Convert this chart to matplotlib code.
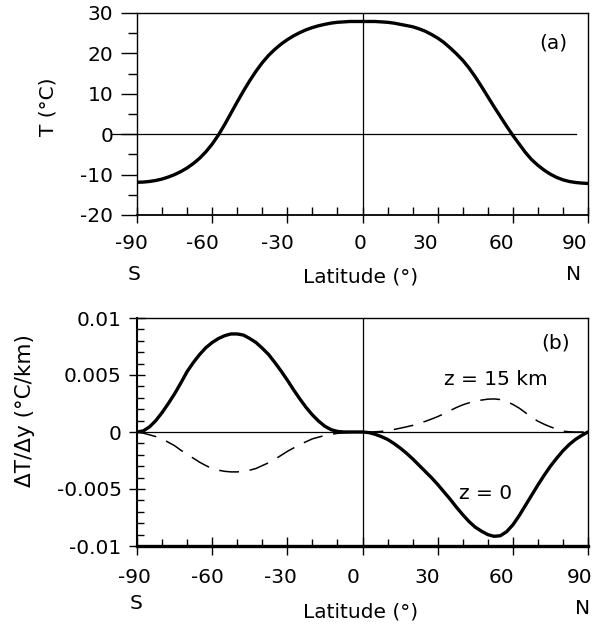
import numpy as np
import matplotlib
matplotlib.use("Agg")
import matplotlib.pyplot as plt
import matplotlib.transforms as mtransforms
from matplotlib.ticker import MultipleLocator, FixedLocator, FixedFormatter

plt.rcParams['font.family'] = ['DejaVu Sans']
plt.rcParams['axes.unicode_minus'] = False
FS = 14.5

# ---------------- data ----------------
lat = np.arange(-90, 90.1, 2.5)

# Panel (a): surface temperature (deg C)
temp_a = [-11.9, -11.85, -11.7, -11.45, -11.1, -10.6, -10.0, -9.25, -8.35, -7.25,
          -5.95, -4.35, -2.45, -0.2, 2.4, 5.2, 8.0, 10.7, 13.25, 15.6,
          17.7, 19.5, 21.0, 22.3, 23.4, 24.35, 25.15, 25.85, 26.4, 26.85,
          27.2, 27.5, 27.7, 27.8, 27.9, 27.9, 27.9, 27.9, 27.9, 27.8,
          27.7, 27.5, 27.2, 26.9, 26.6, 26.1, 25.5, 24.7, 23.8, 22.7,
          21.35, 19.9, 18.3, 16.4, 14.2, 11.8, 9.3, 6.8, 4.4, 2.0,
          -0.3, -2.4, -4.5, -6.3, -7.7, -8.9, -9.9, -10.7, -11.3, -11.7,
          -11.95, -12.1, -12.2]

# Panel (b): meridional gradient (units of 0.001 deg C / km)
grad_z0 = [0.0, 0.1, 0.45, 1.0, 1.7, 2.5, 3.35, 4.3, 5.3, 6.1,
           6.8, 7.4, 7.85, 8.2, 8.45, 8.6, 8.6, 8.5, 8.2, 7.85,
           7.35, 6.8, 6.1, 5.35, 4.55, 3.7, 2.9, 2.15, 1.5, 0.95,
           0.5, 0.2, 0.05, 0.0, 0.0, 0.0, 0.0, -0.05, -0.2, -0.4,
           -0.65, -1.0, -1.4, -1.85, -2.35, -2.9, -3.45, -4.0, -4.6, -5.25,
           -5.9, -6.6, -7.25, -7.85, -8.35, -8.7, -9.0, -9.15, -9.1, -8.75,
           -8.15, -7.35, -6.45, -5.55, -4.65, -3.8, -3.0, -2.3, -1.65, -1.1,
           -0.65, -0.3, 0.0]

grad_z15 = [0.0, -0.1, -0.25, -0.4, -0.6, -0.9, -1.2, -1.6, -1.95, -2.3,
            -2.65, -2.95, -3.2, -3.35, -3.45, -3.5, -3.5, -3.45, -3.35, -3.2,
            -2.95, -2.7, -2.4, -2.05, -1.7, -1.4, -1.1, -0.85, -0.6, -0.45,
            -0.3, -0.2, -0.12, -0.07, -0.03, 0.0, 0.0, 0.0, 0.02, 0.05,
            0.12, 0.22, 0.33, 0.45, 0.58, 0.75, 0.93, 1.13, 1.35, 1.6,
            1.88, 2.15, 2.38, 2.56, 2.7, 2.8, 2.88, 2.9, 2.85, 2.68,
            2.42, 2.1, 1.7, 1.28, 0.95, 0.68, 0.45, 0.25, 0.07, 0.02,
            0.0, 0.0, 0.0]

lat_ticks = [-90, -60, -30, 0, 30, 60, 90]
lat_ticklabels = ['-90', '-60', '-30', '0', '30', '60', '90']
ta_ticks = [-20, -10, 0, 10, 20, 30]
ta_ticklabels = ['-20', '-10', '0', '10', '20', '30']
gb_ticks = [-0.01, -0.005, 0, 0.005, 0.01]
gb_ticklabels = ['-0.01', '-0.005', '0', '0.005', '0.01']

grad_z0 = np.array(grad_z0) * 1e-3
grad_z15 = np.array(grad_z15) * 1e-3

# ---------------- figure ----------------
fig = plt.figure(figsize=(5.96, 6.24), dpi=100)
L, W = 137 / 596, 451 / 596
ax1 = fig.add_axes([L, 1 - 215 / 624, W, 202 / 624])
ax2 = fig.add_axes([L, 1 - 546 / 624, W, 228 / 624])


def shift_xticklabels(ax, shifts_px):
    for lab, dx in zip(ax.get_xticklabels(), shifts_px):
        off = mtransforms.ScaledTranslation(dx / 100.0, 0, fig.dpi_scale_trans)
        lab.set_transform(lab.get_transform() + off)


# ---- panel (a)
ax1.plot(lat, temp_a, color='black', lw=2.4, zorder=3)
ax1.axhline(0, xmin=-0.058, xmax=0.973, color='black', lw=0.9, clip_on=False, zorder=2)
ax1.axvline(0, color='black', lw=0.9, zorder=2)
ax1.set_xlim(-90, 90)
ax1.set_ylim(-20, 30)
ax1.xaxis.set_major_locator(FixedLocator(lat_ticks))
ax1.xaxis.set_major_formatter(FixedFormatter(lat_ticklabels))
ax1.xaxis.set_minor_locator(MultipleLocator(10))
ax1.yaxis.set_major_locator(FixedLocator(ta_ticks))
ax1.yaxis.set_major_formatter(FixedFormatter(ta_ticklabels))
ax1.yaxis.set_minor_locator(MultipleLocator(5))
ax1.tick_params(axis='x', which='major', direction='inout', length=11, width=1.0,
                pad=8.5, labelsize=FS)
ax1.tick_params(axis='x', which='minor', direction='in', length=5.5, width=1.0)
ax1.tick_params(axis='y', which='major', direction='out', length=11.5, width=1.0,
                pad=5.5, labelsize=FS)
ax1.tick_params(axis='y', which='minor', direction='out', length=6.5, width=1.0)
for s in ax1.spines.values():
    s.set_linewidth(1.0)
ax1.spines['bottom'].set_linewidth(1.3)

ax1.set_ylabel('T (°C)', fontsize=FS)
ax1.yaxis.label.set_rotation_mode('default')
ax1.yaxis.label.set_va('center')
ax1.yaxis.label.set_ha('center')
ax1.yaxis.set_label_coords(-0.197, 0.535)
ax1.set_xlabel('Latitude (°)', fontsize=FS)
ax1.xaxis.label.set_va('center')
ax1.xaxis.set_label_coords(0.495, -0.305)
ax1.text(-0.007, -0.297, 'S', transform=ax1.transAxes, ha='center', va='center', fontsize=FS)
ax1.text(0.967, -0.297, 'N', transform=ax1.transAxes, ha='center', va='center', fontsize=FS)
ax1.text(76.3, 22.5, '(a)', ha='center', va='center', fontsize=FS)
shift_xticklabels(ax1, [-6, -10, -10, -2, -12, -11, -13])

# ---- panel (b)
ax2.plot(lat, grad_z0, color='black', lw=2.4, zorder=3)
ax2.plot(lat, grad_z15, color='black', lw=1.1, dashes=(13, 7), zorder=3)
ax2.axhline(0, color='black', lw=0.9, zorder=2)
ax2.axvline(0, color='black', lw=0.9, zorder=2)
ax2.set_xlim(-90, 90)
ax2.set_ylim(-0.01, 0.01)
ax2.xaxis.set_major_locator(FixedLocator(lat_ticks))
ax2.xaxis.set_major_formatter(FixedFormatter(lat_ticklabels))
ax2.xaxis.set_minor_locator(MultipleLocator(10))
ax2.yaxis.set_major_locator(FixedLocator(gb_ticks))
ax2.yaxis.set_major_formatter(FixedFormatter(gb_ticklabels))
ax2.yaxis.set_minor_locator(MultipleLocator(0.001))
ax2.tick_params(axis='x', which='major', direction='inout', length=13, width=1.0,
                pad=9.5, labelsize=FS)
ax2.tick_params(axis='x', which='minor', direction='in', length=5, width=1.0)
ax2.tick_params(axis='y', which='major', direction='inout', length=12, width=1.0,
                pad=5.0, labelsize=FS)
ax2.tick_params(axis='y', which='minor', direction='in', length=4.8, width=1.0)
for s in ax2.spines.values():
    s.set_linewidth(1.0)
ax2.spines['left'].set_linewidth(1.5)
ax2.spines['bottom'].set_linewidth(2.4)

ax2.set_ylabel('ΔT/Δy (°C/km)', fontsize=15.5)
ax2.yaxis.label.set_rotation_mode('default')
ax2.yaxis.label.set_va('center')
ax2.yaxis.label.set_ha('center')
ax2.yaxis.set_label_coords(-0.248, 0.596)
ax2.set_xlabel('Latitude (°)', fontsize=FS)
ax2.xaxis.label.set_va('center')
ax2.xaxis.set_label_coords(0.495, -0.289)
ax2.text(-0.003, -0.254, 'S', transform=ax2.transAxes, ha='center', va='center', fontsize=FS)
ax2.text(0.989, -0.272, 'N', transform=ax2.transAxes, ha='center', va='center', fontsize=FS)
ax2.text(77, 0.0078, '(b)', ha='center', va='center', fontsize=FS)
ax2.text(53.2, 0.0046, 'z = 15 km', ha='center', va='center', fontsize=FS)
ax2.text(49.2, -0.0054, 'z = 0', ha='center', va='center', fontsize=FS)
shift_xticklabels(ax2, [-3, -5, -7, -9, -10, -11, -8])

fig.savefig('out.png', dpi=100)
